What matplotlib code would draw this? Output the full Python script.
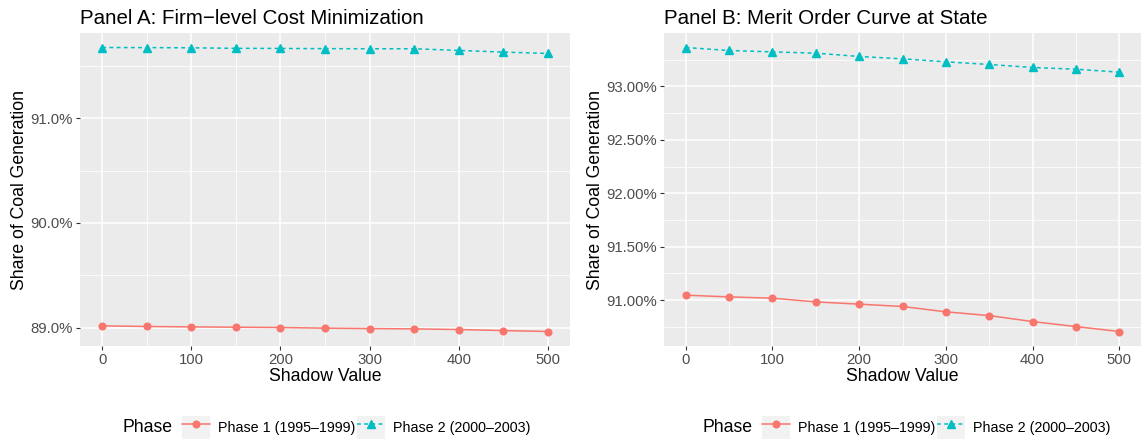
import numpy as np
import matplotlib
matplotlib.use('Agg')
import matplotlib.pyplot as plt
from matplotlib.ticker import FuncFormatter, MultipleLocator
from matplotlib.legend_handler import HandlerLine2D
from matplotlib.patches import Rectangle

plt.rcParams['font.family'] = ['Liberation Sans', 'DejaVu Sans']

# Data (share of coal generation, in %)
shadow_value = [0, 50, 100, 150, 200, 250, 300, 350, 400, 450, 500]

a_phase1 = [89.016, 89.010, 89.006, 89.003, 89.000, 88.994, 88.990, 88.987, 88.981, 88.971, 88.962]
a_phase2 = [91.678, 91.677, 91.675, 91.670, 91.669, 91.667, 91.666, 91.666, 91.650, 91.634, 91.621]

b_phase1 = [91.047, 91.031, 91.019, 90.984, 90.963, 90.941, 90.891, 90.856, 90.800, 90.753, 90.707]
b_phase2 = [93.365, 93.337, 93.324, 93.312, 93.281, 93.259, 93.231, 93.206, 93.178, 93.162, 93.134]

labels = ['Phase 1 (1995\u20131999)', 'Phase 2 (2000\u20132003)']
titles = ['Panel A: Firm\u2212level Cost Minimization', 'Panel B: Merit Order Curve at State']

RED = '#F8766D'
CYAN = '#00BFC4'


class BoxedHandler(HandlerLine2D):
    # legend key with the grey ggplot-style background
    def create_artists(self, legend, orig_handle, xdescent, ydescent, width, height, fontsize, trans):
        box = Rectangle((-xdescent, -ydescent), width, height, facecolor='#F2F2F2',
                        edgecolor='none', transform=trans)
        arts = super().create_artists(legend, orig_handle, xdescent, ydescent,
                                      width, height, fontsize, trans)
        return [box] + list(arts)


fig = plt.figure(figsize=(11.41, 4.41), dpi=100)
axA = fig.add_axes([80 / 1141, 95.3 / 441, 490 / 1141, 312.4 / 441])
axB = fig.add_axes([664 / 1141, 95.3 / 441, 477 / 1141, 312.4 / 441])

panels = [
    (axA, a_phase1, a_phase2, 1.0, 0.5, '{:.1f}%', 123),
    (axB, b_phase1, b_phase2, 0.5, 0.25, '{:.2f}%', 703),
]

for (ax, p1, p2, major, minor, fmt, legx), title in zip(panels, titles):
    ax.set_facecolor('#EBEBEB')
    l1, = ax.plot(shadow_value, p1, color=RED, lw=1.1, marker='o', ms=4.8, zorder=3)
    l2, = ax.plot(shadow_value, p2, color=CYAN, lw=1.1, ls=(0, (2.5, 2.2)), marker='^',
                  ms=5.2, zorder=3)
    ax.margins(x=0.05, y=0.05)

    ax.xaxis.set_major_locator(MultipleLocator(100))
    ax.xaxis.set_minor_locator(MultipleLocator(50))
    ax.yaxis.set_major_locator(MultipleLocator(major))
    ax.yaxis.set_minor_locator(MultipleLocator(minor))
    ax.yaxis.set_major_formatter(FuncFormatter(lambda v, pos, f=fmt: f.format(v)))

    ax.grid(which='major', color='white', lw=1.1)
    ax.grid(which='minor', color='white', lw=0.55)
    ax.set_axisbelow(True)
    for s in ax.spines.values():
        s.set_visible(False)
    ax.tick_params(which='major', length=3, width=0.8, color='#333333',
                   labelcolor='#4D4D4D', labelsize=10.7, pad=2)
    ax.tick_params(which='minor', length=0)

    ax.set_xlabel('Shadow Value', fontsize=12.7, labelpad=1)
    ax.set_ylabel('Share of Coal Generation', fontsize=12.7, labelpad=1.5)
    ax.set_title(title, loc='left', fontsize=14.8, pad=7)

    leg = ax.legend([l1, l2], labels, loc='center left',
                    bbox_to_anchor=((legx + 59) / 1141, 13.5 / 441),
                    bbox_transform=fig.transFigure, ncol=2, frameon=False,
                    fontsize=10.3, handlelength=1.95, handleheight=2.0,
                    handletextpad=0.55, columnspacing=0.15, borderpad=0,
                    borderaxespad=0, handler_map={matplotlib.lines.Line2D: BoxedHandler()})
    fig.text(legx / 1141, 13.5 / 441, 'Phase', fontsize=12.7, va='center', ha='left')

fig.savefig('out.png', dpi=100)
